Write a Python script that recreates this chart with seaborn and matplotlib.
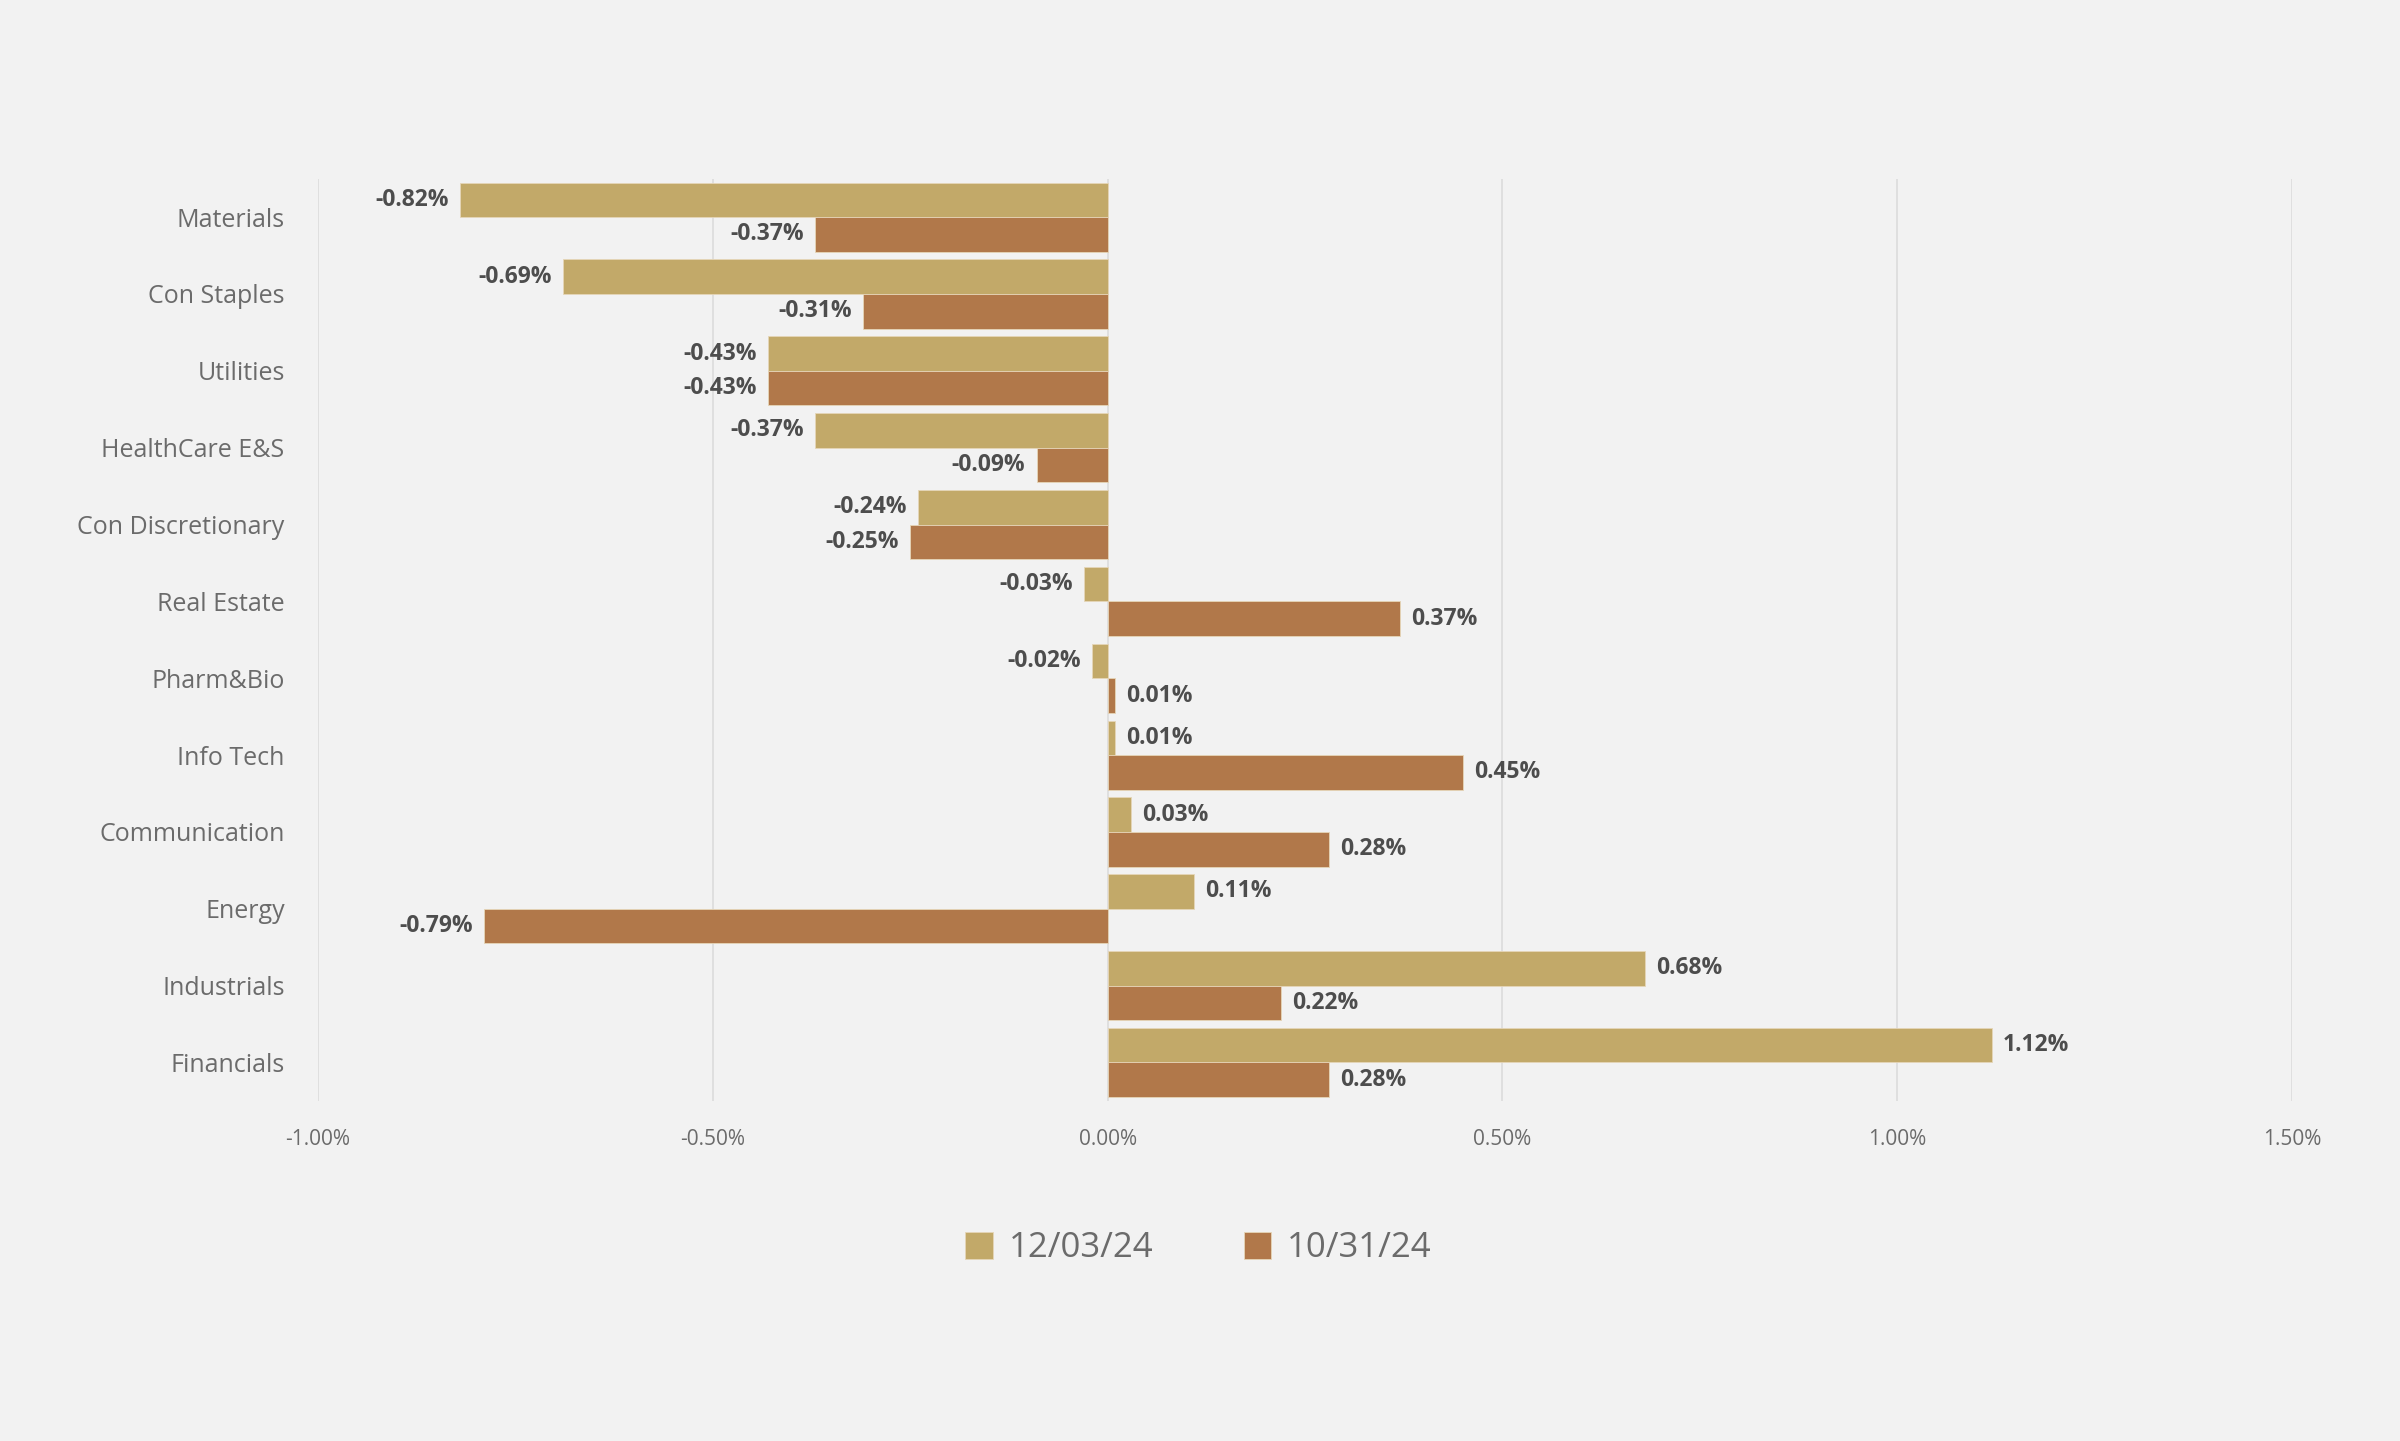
import pandas as pd
import matplotlib.pyplot as plt
import seaborn as sns

# Sector data
sectors = [
    'Materials', 'Con Staples', 'Utilities', 'HealthCare E&S', 'Con Discretionary',
    'Real Estate', 'Pharm&Bio', 'Info Tech', 'Communication', 'Energy',
    'Industrials', 'Financials'
]
dec_03 = [-0.82, -0.69, -0.43, -0.37, -0.24, -0.03, -0.02, 0.01, 0.03, 0.11, 0.68, 1.12]
oct_31 = [-0.37, -0.31, -0.43, -0.09, -0.25, 0.37, 0.01, 0.45, 0.28, -0.79, 0.22, 0.28]
series_names = ['12/03/24', '10/31/24']
x_ticks = [-1.0, -0.5, 0.0, 0.5, 1.0, 1.5]

colors = {'12/03/24': '#C2A969', '10/31/24': '#B1784A'}
bg = '#F2F2F2'
label_grey = '#6B6B6B'
value_grey = '#4D4D4D'

df = pd.DataFrame({
    'sector': sectors * 2,
    'value': dec_03 + oct_31,
    'series': [series_names[0]] * len(sectors) + [series_names[1]] * len(sectors),
})

sns.set_theme(style='white')
plt.rcParams['font.family'] = ['Open Sans', 'DejaVu Sans']

fig = plt.figure(figsize=(24, 14.41), dpi=100, facecolor=bg)
ax = fig.add_axes([0.1325, 0.236, 0.8225, 0.64])
ax.set_facecolor(bg)

sns.barplot(data=df, y='sector', x='value', hue='series', order=sectors,
            hue_order=series_names, palette=colors, orient='h', width=0.9,
            edgecolor='#E6D6B8', linewidth=0.6, saturation=1, ax=ax)

# value labels
for container, name in zip(ax.containers, series_names):
    vals = dec_03 if name == series_names[0] else oct_31
    ax.bar_label(container, labels=[f'{v:.2f}%' for v in vals], padding=8,
                 fontsize=16.5, fontweight='bold', color=value_grey)

ax.set_xlim(-1.0, 1.5)
ax.set_ylim(len(sectors) - 0.5, -0.5)
ax.set_xticks(x_ticks)
ax.set_xticklabels([f'{t:.2f}%' for t in x_ticks], fontsize=15, color=label_grey)
ax.tick_params(axis='y', labelsize=18, labelcolor=label_grey, length=0, pad=24)
ax.tick_params(axis='x', length=0, pad=20)
ax.set_xlabel('')
ax.set_ylabel('')
ax.grid(axis='x', color='#DCDCDC', linewidth=1.2)
ax.set_axisbelow(True)
sns.despine(ax=ax, left=True, bottom=True)

ax.legend(loc='center', bbox_to_anchor=(0.446, -0.16), ncol=2, frameon=False,
          fontsize=25, labelcolor=label_grey, handlelength=0.8, handleheight=0.8,
          handletextpad=0.45, columnspacing=2.6)

fig.savefig('out.png', dpi=100, facecolor=bg)
